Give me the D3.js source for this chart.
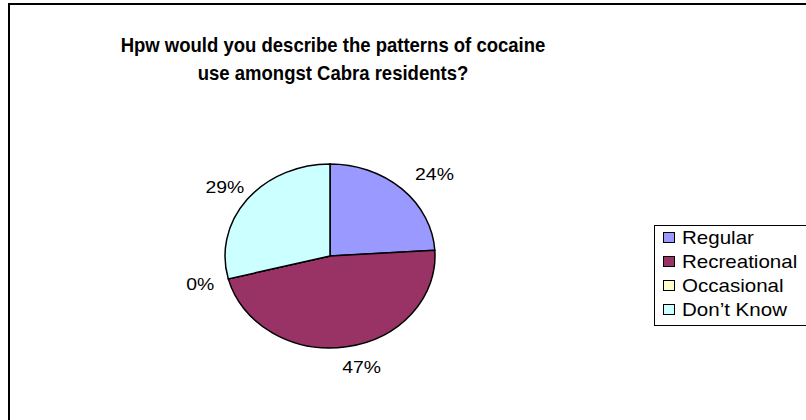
<!DOCTYPE html>
<html>
<head>
<meta charset="utf-8">
<script src="https://cdn.jsdelivr.net/npm/d3@7"></script>
<style>
  html, body { margin: 0; padding: 0; background: #fff; overflow: hidden; }
  text { font-family: "Liberation Sans", Arial, sans-serif; fill: #000; }
</style>
</head>
<body>
<div class="chart-area"></div>
<script>
// Pie chart: patterns of cocaine use

const categories = ["Regular", "Recreational", "Occasional", "Don\u2019t Know"];
const values = [24, 47, 0, 29];
const sliceColors = ["#9999FF", "#993366", "#FFFFCC", "#CCFFFF"];
const titleLines = ["Hpw would you describe the patterns of cocaine", "use amongst Cabra residents?"];

const W = 806, H = 420;
const sx = 105 / 92;          // the picture is stretched sideways
const cx = 330, cy = 256, r = 92;

const svg = d3.select(".chart-area")
    .append("svg")
    .attr("width", W)
    .attr("height", H);

// chart frame (right and bottom run off the picture)
svg.append("rect")
    .attr("x", 9).attr("y", 4)
    .attr("width", 1000).attr("height", 1000)
    .attr("fill", "#fff")
    .attr("stroke", "#000")
    .attr("stroke-width", 2);

// title
titleLines.forEach((t, i) => {
    svg.append("text")
        .attr("transform", `translate(333,${52 + i * 28}) scale(0.95,1)`)
        .attr("text-anchor", "middle")
        .attr("font-size", 19.5)
        .attr("font-weight", "bold")
        .text(t);
});

// pie
const pie = d3.pie().sort(null).value(d => d)(values);
const arc = d3.arc().innerRadius(0).outerRadius(r);

const pieG = svg.append("g")
    .attr("transform", `translate(${cx},${cy}) scale(${sx},1)`);

pieG.selectAll("path")
    .data(pie)
    .enter()
    .append("path")
    .attr("d", arc)
    .attr("fill", (d, i) => sliceColors[i])
    .attr("stroke", "#000")
    .attr("stroke-width", 1.5)
    .attr("vector-effect", "non-scaling-stroke");

// percentage labels outside the slices
const total = d3.sum(values);
const labelRx = 138, labelRy = 112;
pie.forEach((d, i) => {
    const a = (d.startAngle + d.endAngle) / 2;
    const s = Math.sin(a);
    const px = cx + (s > 0 ? 10 : 4) + labelRx * s;
    const py = cy - labelRy * Math.cos(a);
    svg.append("text")
        .attr("transform", `translate(${px},${py}) scale(${sx},1)`)
        .attr("text-anchor", "middle")
        .attr("dy", "0.35em")
        .attr("font-size", 17)
        .text(Math.round(values[i] / total * 100) + "%");
});

// legend
const legend = svg.append("g");
legend.append("rect")
    .attr("x", 654.5).attr("y", 225.5)
    .attr("width", 300).attr("height", 100)
    .attr("fill", "#fff")
    .attr("stroke", "#000")
    .attr("stroke-width", 1);

categories.forEach((cat, i) => {
    const y = 238 + i * 24;
    legend.append("rect")
        .attr("x", 663.5).attr("y", y - 5.5)
        .attr("width", 11).attr("height", 10)
        .attr("fill", sliceColors[i])
        .attr("stroke", "#000")
        .attr("stroke-width", 1);
    legend.append("text")
        .attr("transform", `translate(682,${y}) scale(${sx},1)`)
        .attr("dy", "0.35em")
        .attr("font-size", 18)
        .text(cat);
});
</script>
</body>
</html>
